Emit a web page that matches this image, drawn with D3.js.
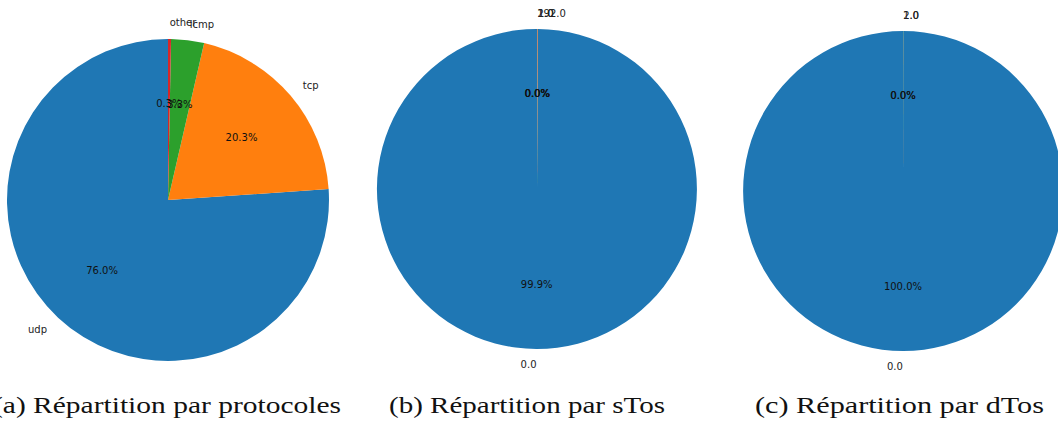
<!DOCTYPE html>
<html>
<head>
<meta charset="utf-8">
<script src="https://cdn.jsdelivr.net/npm/d3@7"></script>
<style>
  html, body { margin: 0; padding: 0; background: #fff; }
  svg { display: block; }
</style>
</head>
<body>
<svg id="chart" width="1058" height="423"></svg>
<script>
// Protocol shares (percent)
const protoLabels = ["udp", "tcp", "icmp", "other"];
const protoValues = [76.0, 20.3, 3.3, 0.3];

// Source ToS shares (percent)
const sTosLabels = ["0.0", "1.0", "2.0", "192.0"];
const sTosValues = [99.9, 0.02, 0.03, 0.04];

// Destination ToS shares (percent)
const dTosLabels = ["0.0", "2.0", "1.0"];
const dTosValues = [99.98, 0.01, 0.01];

const captions = [
  "(a) Répartition par protocoles",
  "(b) Répartition par sTos",
  "(c) Répartition par dTos"
];

const palette = ["#1f77b4", "#ff7f0e", "#2ca02c", "#d62728", "#9467bd",
                 "#8c564b", "#e377c2", "#7f7f7f", "#bcbd22", "#17becf"];

const svg = d3.select("#chart");

const panels = [
  { labels: protoLabels, values: protoValues, cx: 168, cy: 200, r: 161,
    caption: captions[0], capX: -7, capW: 348 },
  { labels: sTosLabels, values: sTosValues, cx: 537, cy: 189, r: 160,
    caption: captions[1], capX: 389, capW: 276 },
  { labels: dTosLabels, values: dTosValues, cx: 903, cy: 191, r: 160,
    caption: captions[2], capX: 755, capW: 289 }
];

// Wedges start at 12 o'clock and run counter-clockwise
const pie = d3.pie().sort(null).startAngle(0).endAngle(-2 * Math.PI);

panels.forEach(p => {
  const g = svg.append("g").attr("transform", `translate(${p.cx},${p.cy})`);
  const arcs = pie(p.values.map((v, i) => ({ v, label: p.labels[i] })).map(d => d.v));
  const arcGen = d3.arc().innerRadius(0).outerRadius(p.r);
  const color = d3.scaleOrdinal().domain(d3.range(10)).range(palette);

  g.selectAll("path.wedge")
    .data(arcs)
    .join("path")
    .attr("class", "wedge")
    .attr("d", arcGen)
    .attr("fill", (d, i) => color(i));

  const mid = d => (d.startAngle + d.endAngle) / 2;

  // category labels outside the wedges
  g.selectAll("text.cat")
    .data(arcs)
    .join("text")
    .attr("class", "cat")
    .attr("x", d => Math.sin(mid(d)) * p.r * 1.1)
    .attr("y", d => -Math.cos(mid(d)) * p.r * 1.1)
    .attr("text-anchor", d => Math.sin(mid(d)) > 0 ? "start" : "end")
    .attr("dominant-baseline", "central")
    .attr("font-family", "DejaVu Sans, sans-serif")
    .attr("font-size", 10)
    .attr("fill", "#222")
    .text((d, i) => p.labels[i]);

  // percentage labels inside the wedges
  g.selectAll("text.pct")
    .data(arcs)
    .join("text")
    .attr("class", "pct")
    .attr("x", d => Math.sin(mid(d)) * p.r * 0.6)
    .attr("y", d => -Math.cos(mid(d)) * p.r * 0.6)
    .attr("text-anchor", "middle")
    .attr("dominant-baseline", "central")
    .attr("font-family", "DejaVu Sans, sans-serif")
    .attr("font-size", 10)
    .attr("fill", "#111")
    .text(d => d.value.toFixed(1) + "%");

  svg.append("text")
    .attr("x", p.capX)
    .attr("y", 413)
    .attr("font-family", "Liberation Serif, serif")
    .attr("font-size", 24)
    .attr("textLength", p.capW)
    .attr("lengthAdjust", "spacingAndGlyphs")
    .attr("fill", "#111")
    .text(p.caption);
});
</script>
</body>
</html>
